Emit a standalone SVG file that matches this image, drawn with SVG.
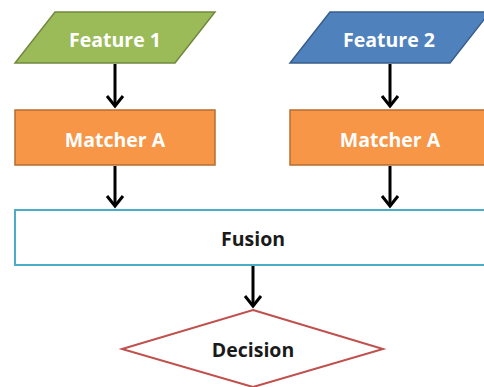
<svg xmlns="http://www.w3.org/2000/svg" width="484" height="387" viewBox="0 0 484 387">
<style>
text{font-family:"Open Sans","Liberation Sans",sans-serif;font-weight:bold;font-size:19.5px;text-anchor:middle;dominant-baseline:central}
.w{fill:#ffffff}
.d{fill:#1a1a1a}
.c line{stroke:#000;stroke-width:3}
.c polyline{fill:none;stroke:#000;stroke-width:3;stroke-linejoin:miter}
</style>
<rect width="484" height="387" fill="#ffffff"/>
<g id="feature1">
<polygon points="55,12 215,12 175,63 15,63" fill="#9bbb59" stroke="#71893f" stroke-width="1.5"/>
<text class="w" x="115" y="39">Feature 1</text>
</g>
<g id="feature2">
<polygon points="330,12 490,12 450,63 290,63" fill="#4f81bd" stroke="#385d8a" stroke-width="1.5"/>
<text class="w" x="389" y="39">Feature 2</text>
</g>
<g id="matcher1">
<rect x="15" y="110" width="200" height="55" fill="#f79646" stroke="#b66d31" stroke-width="1.5"/>
<text class="w" x="115" y="139">Matcher A</text>
</g>
<g id="matcher2">
<rect x="290" y="110" width="200" height="55" fill="#f79646" stroke="#b66d31" stroke-width="1.5"/>
<text class="w" x="390" y="139">Matcher A</text>
</g>
<g id="fusion">
<rect x="15" y="210" width="480" height="55" fill="#ffffff" stroke="#4bacc6" stroke-width="2"/>
<text class="d" x="253" y="238">Fusion</text>
</g>
<g id="decision">
<polygon points="253,310 383,349 253,387 122,349" fill="#ffffff" stroke="#c0504d" stroke-width="2"/>
<text class="d" x="253" y="349">Decision</text>
</g>
<g id="connectors" class="c">
<line x1="115" y1="64" x2="115" y2="106"/>
<polyline points="107,96 115,106 123,96"/>
<line x1="390" y1="64" x2="390" y2="106"/>
<polyline points="382,96 390,106 398,96"/>
<line x1="115" y1="166" x2="115" y2="206"/>
<polyline points="107,196 115,206 123,196"/>
<line x1="390" y1="166" x2="390" y2="206"/>
<polyline points="382,196 390,206 398,196"/>
<line x1="253" y1="266" x2="253" y2="306"/>
<polyline points="245,296 253,306 261,296"/>
</g>
</svg>
